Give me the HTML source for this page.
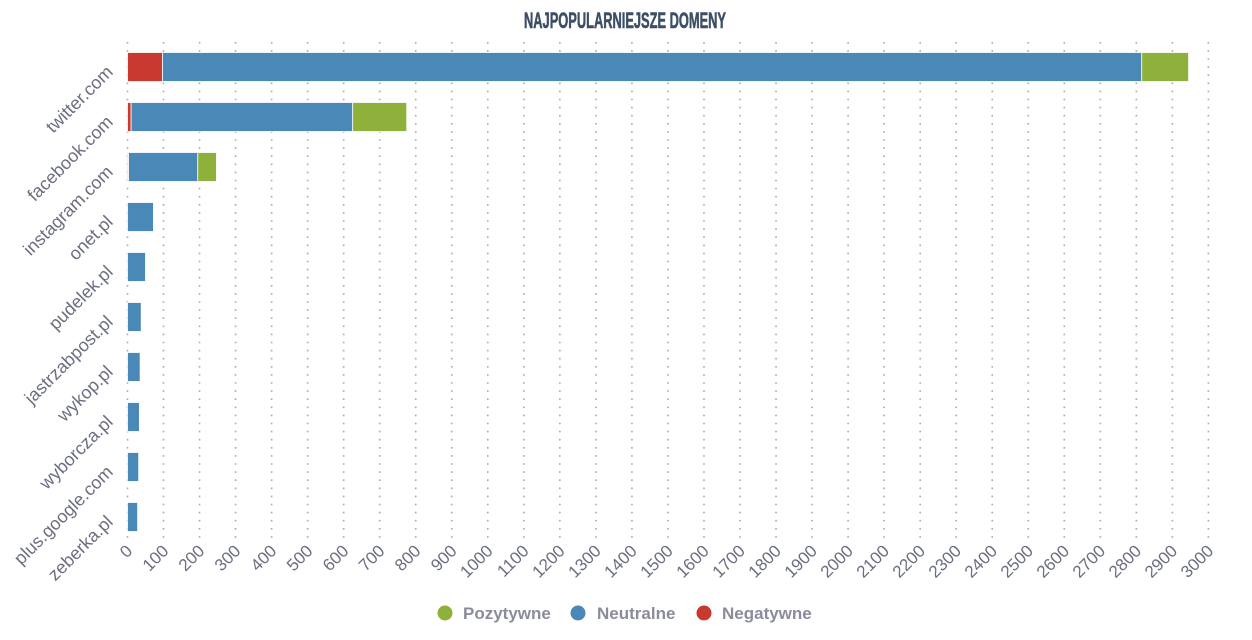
<!DOCTYPE html>
<html><head><meta charset="utf-8"><style>html,body{margin:0;padding:0;background:#fff}svg{display:block}</style></head>
<body>
<svg width="1252" height="640" viewBox="0 0 1252 640" xmlns="http://www.w3.org/2000/svg" font-family="Liberation Sans, sans-serif">
<text x="625" y="28" text-anchor="middle" font-size="22" font-weight="bold" fill="#3d4f66" stroke="#3d4f66" stroke-width="0.6" textLength="202" lengthAdjust="spacingAndGlyphs">NAJPOPULARNIEJSZE DOMENY</text>
<g id="grid" stroke="#a8a8a8" stroke-width="1.6" stroke-dasharray="1.6,6.5">
</g>
<g id="bars" stroke="#fff" stroke-width="0.8"></g>
<g id="ylab" font-size="18" fill="#6b6e80"></g>
<g id="xlab" font-size="17" fill="#6b6e80"></g>
<g font-size="17" font-weight="bold" fill="#8a8c9c">
<circle cx="445" cy="613" r="7.5" fill="#8db13a"/><text x="463" y="619">Pozytywne</text>
<circle cx="578" cy="613" r="7.5" fill="#4a88b8"/><text x="597" y="619">Neutralne</text>
<circle cx="704" cy="613" r="7.5" fill="#c8392f"/><text x="722" y="619">Negatywne</text>
</g>
</svg>
<script>
const ns="http://www.w3.org/2000/svg";
function el(t,a,p,txt){const e=document.createElementNS(ns,t);for(const k in a)e.setAttribute(k,a[k]);if(txt!==undefined)e.textContent=txt;document.getElementById(p).appendChild(e);return e;}
const x0=127.5,s=0.3603;
for(let i=0;i<=30;i++){const x=x0+i*100*s;el('line',{x1:x,x2:x,y1:42,y2:542},'grid');
el('text',{x:0,y:0,'text-anchor':'end',transform:`translate(${x+6},${552}) rotate(-45)`},'xlab',String(i*100));}
const names=["twitter.com","facebook.com","instagram.com","onet.pl","pudelek.pl","jastrzabpost.pl","wykop.pl","wyborcza.pl","plus.google.com","zeberka.pl"];
const data=[[97,2815,2945],[10,625,775],[3,195,247],[0,72,72],[0,50,50],[0,38,38],[0,35,35],[0,33,33],[0,31,31],[0,28,28]];
names.forEach((n,i)=>{const cy=67+i*50,y=cy-14.5,h=29;const d=data[i];
if(d[0]>0)el('rect',{x:x0,y:y,width:d[0]*s,height:h,fill:'#c8392f'},'bars');
el('rect',{x:x0+d[0]*s,y:y,width:(d[1]-d[0])*s,height:h,fill:'#4a88b8'},'bars');
if(d[2]>d[1])el('rect',{x:x0+d[1]*s,y:y,width:(d[2]-d[1])*s,height:h,fill:'#8db13a'},'bars');
el('text',{x:0,y:0,'text-anchor':'end',transform:`translate(${114},${cy+6}) rotate(-45)`},'ylab',n);});
</script>
</body></html>
